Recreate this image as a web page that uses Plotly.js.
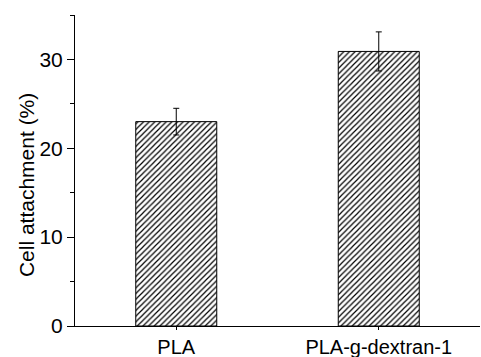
<!DOCTYPE html>
<html>
<head>
<meta charset="utf-8">
<script src="https://cdn.plot.ly/plotly-3.0.1.min.js"></script>
<style>html,body{margin:0;padding:0;background:#fff;}#chart{width:481px;height:357px;}</style>
</head>
<body>
<div id="chart"></div>
<script>
const categories = ["PLA", "PLA-g-dextran-1"];
const values = [23.0, 30.9];
const errors = [1.5, 2.2];
const yTickVals = [0, 10, 20, 30];
const yTitle = "Cell attachment (%)";

const trace = {
  type: "bar",
  x: categories,
  y: values,
  width: 0.4,
  marker: {
    color: "#ffffff",
    line: {color: "#000000", width: 1},
    pattern: {shape: "/", fgcolor: "#000000", bgcolor: "#ffffff", size: 4, solidity: 0.3}
  },
  error_y: {type: "data", array: errors, visible: true, color: "#000000", thickness: 1, width: 3}
};

const layout = {
  width: 481,
  height: 357,
  margin: {l: 75, r: 1, t: 15, b: 31},
  paper_bgcolor: "#ffffff",
  plot_bgcolor: "#ffffff",
  showlegend: false,
  font: {family: "Liberation Sans, Arial, sans-serif", color: "#000000", size: 20},
  xaxis: {
    type: "category",
    range: [-0.5, 1.5],
    showline: true,
    linecolor: "#000000",
    linewidth: 1,
    ticks: "outside",
    ticklen: 3,
    tickcolor: "#000000",
    showgrid: false,
    zeroline: false,
    tickfont: {size: 20},
    minor: {ticks: "outside", ticklen: 3, tickcolor: "#000000", dtick: 1, tick0: 0.5}
  },
  yaxis: {
    range: [0, 35],
    showline: true,
    linecolor: "#000000",
    linewidth: 1,
    ticks: "outside",
    ticklen: 7,
    tickcolor: "#000000",
    tickvals: yTickVals,
    showgrid: false,
    zeroline: false,
    tickfont: {size: 21},
    minor: {ticks: "outside", ticklen: 4, tickcolor: "#000000", dtick: 5}
  },
  annotations: [{
    text: yTitle,
    textangle: -90,
    xref: "paper", yref: "paper",
    x: -0.121, y: 0.453,
    xanchor: "center", yanchor: "middle",
    showarrow: false,
    font: {size: 21, color: "#000000"}
  }]
};

Plotly.newPlot("chart", [trace], layout, {displayModeBar: false, staticPlot: true});
</script>
</body>
</html>
